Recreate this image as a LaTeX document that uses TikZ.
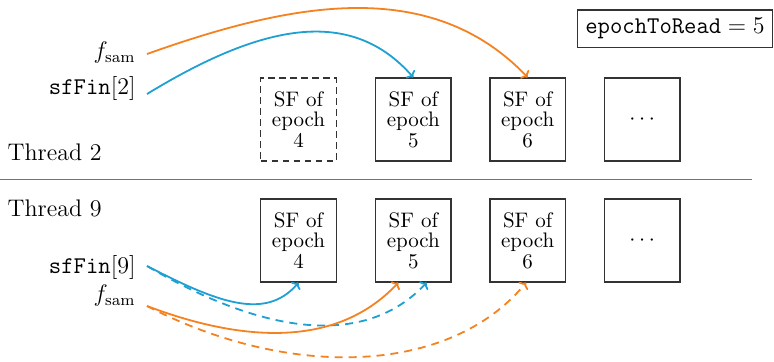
\documentclass[tikz,border=0pt]{standalone}
\usetikzlibrary{arrows.meta,calc}
\definecolor{myorange}{RGB}{245,130,32}
\definecolor{myblue}{RGB}{30,160,210}
\begin{document}
\begin{tikzpicture}[x=0.5pt,y=-0.5pt,
  lab/.style={font=\fontsize{12}{14}\selectfont, inner sep=0pt},
  sfbox/.style={draw=black!80, line width=0.6pt, minimum width=37.75pt, minimum height=41.5pt,
    inner sep=0pt, align=center, font=\fontsize{10.5}{10.2}\selectfont},
  conn/.style={line width=0.9pt, -{To[length=2.6pt,width=6pt]}},
  dsh/.style={dash pattern=on 4pt off 3pt}]
\useasboundingbox (0,0) rectangle (774,361);

% boxes, thread 2
\node[sfbox, dash pattern=on 3.3pt off 2.2pt] (a4) at (298.5,119.5) {SF of\\epoch\\4};
\node[sfbox] (a5) at (413.3,119.5) {SF of\\epoch\\5};
\node[sfbox] (a6) at (527.7,119.5) {SF of\\epoch\\6};
\node[sfbox] (a7) at (642.2,119.5) {$\cdots$};
% boxes, thread 9
\node[sfbox] (b4) at (298.5,240.5) {SF of\\epoch\\4};
\node[sfbox] (b5) at (413.3,240.5) {SF of\\epoch\\5};
\node[sfbox] (b6) at (527.7,240.5) {SF of\\epoch\\6};
\node[sfbox] (b7) at (642.2,240.5) {$\cdots$};

% epochToRead
\node[draw=black!80, line width=0.6pt, minimum width=97.5pt, minimum height=18.65pt,
  inner sep=0pt, font=\fontsize{12}{14}\selectfont] (etr) at (675,28.7) {$\texttt{epochToRead} = 5$};

% labels
\node[lab, anchor=base west] (t2) at (7.3,160.7) {Thread 2};
\node[lab, anchor=base west] (t9) at (7.3,216) {Thread 9};
\node[lab, anchor=base east] (fa) at (136,58.7) {$f_{\mathrm{sam}}$};
\node[lab, anchor=base east] (sa) at (136,94.5) {$\texttt{sfFin}[2]$};
\node[lab, anchor=base east] (sb) at (136,273.3) {$\texttt{sfFin}[9]$};
\node[lab, anchor=base east] (fb) at (136,301.4) {$f_{\mathrm{sam}}$};

% separator
\coordinate (sepL) at (0,179.5);
\coordinate (sepR) at (751.7,179.5);
\draw[line width=0.6pt, black!55] (sepL) -- (sepR);

% connectors, thread 2
\draw[conn, myorange] ($(fa.base east)+(11,-4.7)$) .. controls (290,3) and (430,-25) .. (a6.north);
\draw[conn, myblue] ($(sa.base east)+(11,-0.5)$) .. controls (260,25) and (350,5) .. (a5.north);

% connectors, thread 9
\draw[conn, myblue] ($(sb.base east)+(11,-7.3)$) .. controls (215,301) and (265,322) .. (b4.south);
\draw[conn, myblue, dsh] ($(sb.base east)+(11,-7.3)$) .. controls (265,335) and (365,348) .. ([xshift=6.7pt]b5.south);
\draw[conn, myorange] ($(fb.base east)+(11,4.6)$) .. controls (250,345) and (340,345) .. ([xshift=-7.5pt]b5.south);
\draw[conn, myorange, dsh] ($(fb.base east)+(11,4.6)$) .. controls (290,380) and (450,375) .. ([xshift=-0.8pt]b6.south);
\end{tikzpicture}
\end{document}
